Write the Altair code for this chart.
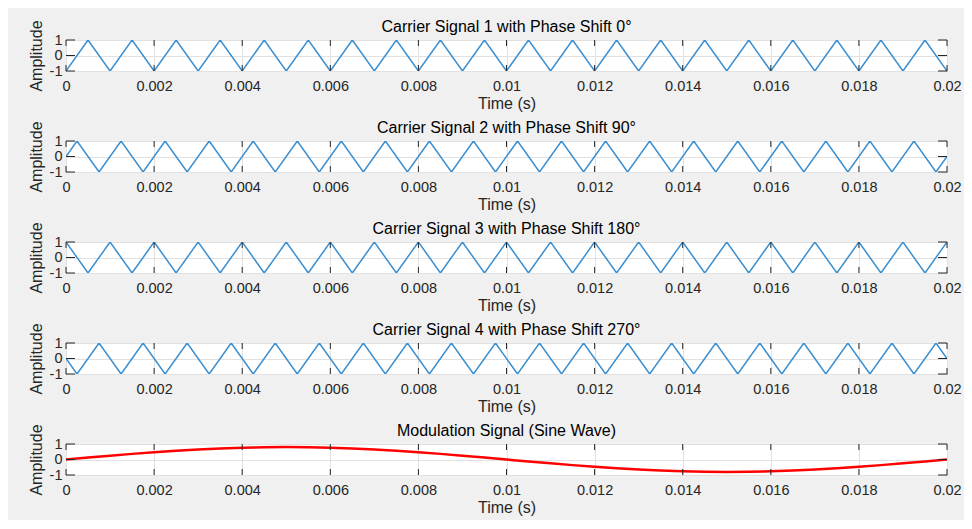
import altair as alt
import pandas as pd

# ---------------- data ----------------
T_A = [0.0, 0.0005, 0.001, 0.0015, 0.002, 0.0025, 0.003, 0.0035, 0.004, 0.0045,
       0.005, 0.0055, 0.006, 0.0065, 0.007, 0.0075, 0.008, 0.0085, 0.009, 0.0095,
       0.01, 0.0105, 0.011, 0.0115, 0.012, 0.0125, 0.013, 0.0135, 0.014, 0.0145,
       0.015, 0.0155, 0.016, 0.0165, 0.017, 0.0175, 0.018, 0.0185, 0.019, 0.0195,
       0.02]
T_B = [0.0, 0.00025, 0.00075, 0.00125, 0.00175, 0.00225, 0.00275, 0.00325, 0.00375,
       0.00425, 0.00475, 0.00525, 0.00575, 0.00625, 0.00675, 0.00725, 0.00775,
       0.00825, 0.00875, 0.00925, 0.00975, 0.01025, 0.01075, 0.01125, 0.01175,
       0.01225, 0.01275, 0.01325, 0.01375, 0.01425, 0.01475, 0.01525, 0.01575,
       0.01625, 0.01675, 0.01725, 0.01775, 0.01825, 0.01875, 0.01925, 0.01975, 0.02]

CARRIER_1 = [-1, 1, -1, 1, -1, 1, -1, 1, -1, 1, -1, 1, -1, 1, -1, 1, -1, 1, -1, 1,
             -1, 1, -1, 1, -1, 1, -1, 1, -1, 1, -1, 1, -1, 1, -1, 1, -1, 1, -1, 1, -1]
CARRIER_2 = [0, 1, -1, 1, -1, 1, -1, 1, -1, 1, -1, 1, -1, 1, -1, 1, -1, 1, -1, 1, -1,
             1, -1, 1, -1, 1, -1, 1, -1, 1, -1, 1, -1, 1, -1, 1, -1, 1, -1, 1, -1, 0]
CARRIER_3 = [1, -1, 1, -1, 1, -1, 1, -1, 1, -1, 1, -1, 1, -1, 1, -1, 1, -1, 1, -1,
             1, -1, 1, -1, 1, -1, 1, -1, 1, -1, 1, -1, 1, -1, 1, -1, 1, -1, 1, -1, 1]
CARRIER_4 = [0, -1, 1, -1, 1, -1, 1, -1, 1, -1, 1, -1, 1, -1, 1, -1, 1, -1, 1, -1, 1,
             -1, 1, -1, 1, -1, 1, -1, 1, -1, 1, -1, 1, -1, 1, -1, 1, -1, 1, -1, 1, 0]
MODULATION = [0.0, 0.125, 0.247, 0.363, 0.470, 0.566, 0.647, 0.713, 0.761, 0.790,
              0.800, 0.790, 0.761, 0.713, 0.647, 0.566, 0.470, 0.363, 0.247, 0.125,
              0.0, -0.125, -0.247, -0.363, -0.470, -0.566, -0.647, -0.713, -0.761,
              -0.790, -0.800, -0.790, -0.761, -0.713, -0.647, -0.566, -0.470, -0.363,
              -0.247, -0.125, 0.0]

TITLES = ["Carrier Signal 1 with Phase Shift 0°",
          "Carrier Signal 2 with Phase Shift 90°",
          "Carrier Signal 3 with Phase Shift 180°",
          "Carrier Signal 4 with Phase Shift 270°",
          "Modulation Signal (Sine Wave)"]
X_TICKS = [0, 0.002, 0.004, 0.006, 0.008, 0.01, 0.012, 0.014, 0.016, 0.018, 0.02]
Y_TICKS = [-1, 0, 1]

# ---------------- style ----------------
W, H = 881, 31
FONT = "Liberation Sans"
AX = "#262626"
BLUE = "#3a8fd0"
RED = "#ff0000"

xscale = alt.Scale(domain=[0, 0.02], nice=False, zero=False)
yscale = alt.Scale(domain=[-1, 1], nice=False)
xaxis = alt.Axis(values=X_TICKS, labelExpr="datum.value + ''",
                 grid=True, ticks=False, domain=False,
                 labelFlush=False, labelOverlap=False,
                 labelPadding=8, titlePadding=3)
yaxis = alt.Axis(values=Y_TICKS, labelExpr="datum.value + ''",
                 grid=True, ticks=False, domain=False,
                 labelPadding=4, titlePadding=5)

xticks_df = pd.DataFrame({"t": X_TICKS})
yticks_df = pd.DataFrame({"v": Y_TICKS})


def X():
    return alt.X("t:Q", scale=xscale, title="Time (s)", axis=xaxis)


def Y():
    return alt.Y("v:Q", scale=yscale, title="Amplitude", axis=yaxis)


def panel(times, values, title, color, width):
    df = pd.DataFrame({"t": times, "v": values})
    line = alt.Chart(df).mark_line(color=color, strokeWidth=width, clip=True).encode(
        x=X(), y=Y())
    top_ticks = alt.Chart(xticks_df).mark_rule(color=AX, strokeWidth=1).encode(
        x=X(), y=alt.value(0), y2=alt.value(6))
    bot_ticks = alt.Chart(xticks_df).mark_rule(color=AX, strokeWidth=1).encode(
        x=X(), y=alt.value(H - 6), y2=alt.value(H))
    left_ticks = alt.Chart(yticks_df).mark_rule(color=AX, strokeWidth=1).encode(
        y=Y(), x=alt.value(0), x2=alt.value(9))
    right_ticks = alt.Chart(yticks_df).mark_rule(color=AX, strokeWidth=1).encode(
        y=Y(), x=alt.value(W - 9), x2=alt.value(W))
    return alt.layer(line, top_ticks, bot_ticks, left_ticks, right_ticks).properties(
        width=W, height=H,
        title=alt.TitleParams(text=title, fontSize=16, fontWeight="normal",
                              font=FONT, color="#000000", offset=-15))


panels = [
    panel(T_A, CARRIER_1, TITLES[0], BLUE, 1.5),
    panel(T_B, CARRIER_2, TITLES[1], BLUE, 1.5),
    panel(T_A, CARRIER_3, TITLES[2], BLUE, 1.5),
    panel(T_B, CARRIER_4, TITLES[3], BLUE, 1.5),
    panel(T_A, MODULATION, TITLES[4], RED, 2.5),
]

chart = alt.vconcat(*panels, spacing=70, bounds="flush").properties(
    background="#f0f0f0",
    padding={"left": 19, "top": 10, "right": 2, "bottom": 4},
).configure_view(
    stroke=AX, strokeWidth=1, fill="white"
).configure_axis(
    labelFont=FONT, labelFontSize=14.5, labelColor=AX,
    titleFont=FONT, titleFontSize=16, titleFontWeight="normal", titleColor=AX,
    gridColor="#e1e1e1", gridWidth=1,
)

chart.save("out.html", embed_options={"renderer": "svg", "actions": False})
